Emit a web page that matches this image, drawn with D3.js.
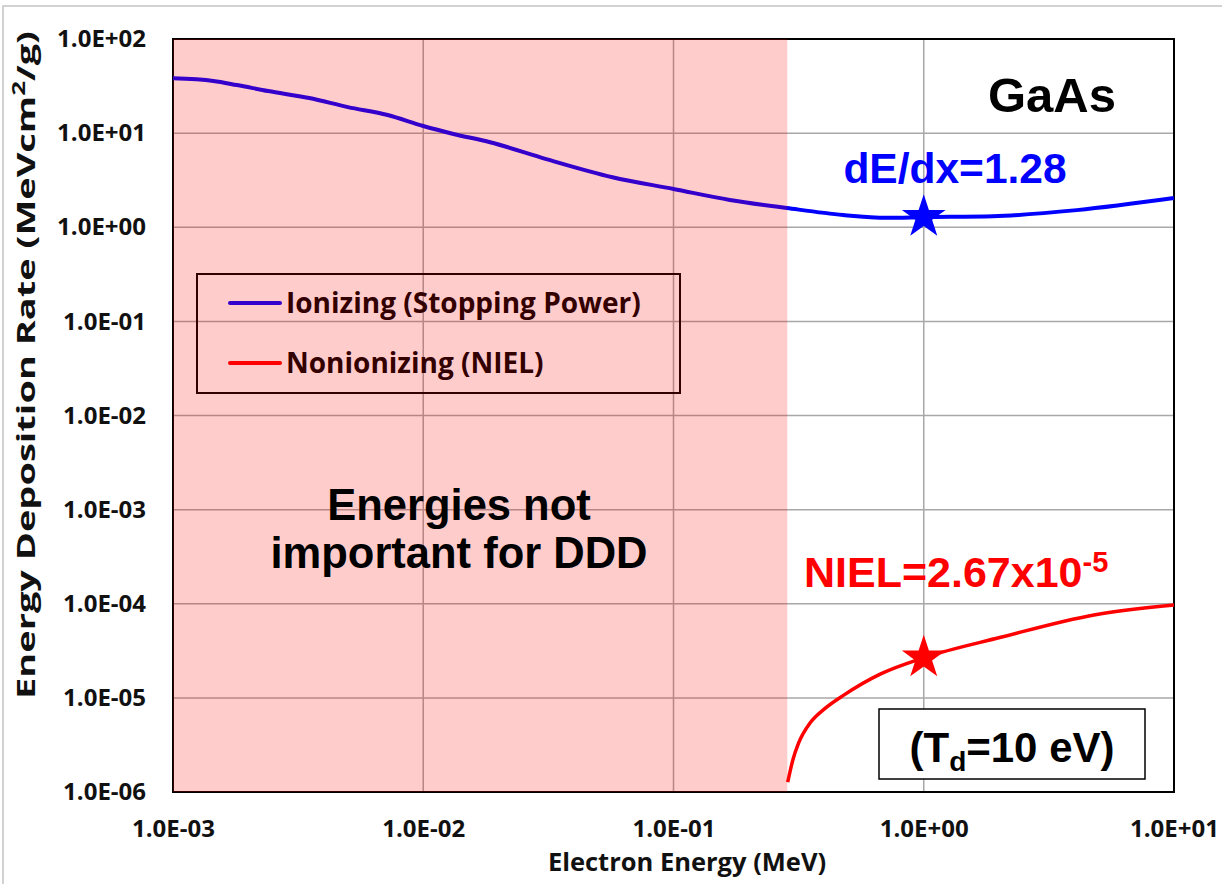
<!DOCTYPE html>
<html>
<head>
<meta charset="utf-8">
<script src="https://cdn.jsdelivr.net/npm/d3@7"></script>
<style>
  body { margin: 0; background: #fff; }
  svg { display: block; }
  .tick text { font-family: "Open Sans", Lato, sans-serif; font-weight: 700; font-size: 24px; fill: #111; }
  .cal { font-family: "Open Sans", Lato, sans-serif; font-weight: 700; }
  .big { font-family: "Liberation Sans", Arial, sans-serif; font-weight: 700; }
</style>
</head>
<body>
<svg id="chart" width="1222" height="884"></svg>
<script>
// ionizing (stopping power), MeV cm2/g
const ionEnergy = [0.001, 0.00145, 0.0018, 0.0024, 0.0035, 0.005, 0.0072, 0.01, 0.0132, 0.0185, 0.031, 0.057, 0.1, 0.168, 0.284, 0.476, 0.713, 1, 1.89, 4.09, 10]
const ionValue  = [38.2, 35.8, 32.4, 28.0, 23.6, 18.9, 15.6, 11.9, 9.8, 8.0, 5.3, 3.4, 2.55, 1.95, 1.6, 1.35, 1.26, 1.28, 1.31, 1.52, 2.04]

// nonionizing (NIEL)
const nielEnergy = [0.286, 0.30, 0.316, 0.353, 0.40, 0.479, 0.673, 1, 2.03, 4.79, 10]
const nielValue  = [1.27e-6, 2.2e-6, 3.3e-6, 5.5e-6, 7.6e-6, 1.07e-5, 1.8e-5, 2.67e-5, 4.4e-5, 7.6e-5, 9.7e-5]

const xTicks = [1e-3, 1e-2, 1e-1, 1e0, 1e1]
const xTickLabels = ["1.0E-03", "1.0E-02", "1.0E-01", "1.0E+00", "1.0E+01"]
const yTicks = [1e-6, 1e-5, 1e-4, 1e-3, 1e-2, 1e-1, 1e0, 1e1, 1e2]
const yTickLabels = ["1.0E-06", "1.0E-05", "1.0E-04", "1.0E-03", "1.0E-02", "1.0E-01", "1.0E+00", "1.0E+01", "1.0E+02"]

const pinkRange = [1e-3, 0.285]   // energies not important for DDD
const markers = [
  {energy: 1, value: 1.28, color: "#0000ff"},
  {energy: 1, value: 2.67e-5, color: "#ff0000"}
]

const plot = {left: 173, right: 1174, top: 39, bottom: 792}

const svg = d3.select("#chart")

// outer frame
svg.append("rect").attr("x", 3).attr("y", 6).attr("width", 1240).attr("height", 900)
  .attr("fill", "none").attr("stroke", "#c4c4c4").attr("stroke-width", 1.5)

const x = d3.scaleLog().domain([1e-3, 10]).range([plot.left, plot.right])
const y = d3.scaleLog().domain([1e-6, 1e2]).range([plot.bottom, plot.top])

// grid
svg.append("g").selectAll("line.h").data(yTicks.slice(1, -1)).join("line")
  .attr("x1", plot.left).attr("x2", plot.right)
  .attr("y1", d => y(d)).attr("y2", d => y(d))
  .attr("stroke", "#a8a8a8").attr("stroke-width", 1.5)
svg.append("g").selectAll("line.v").data(xTicks.slice(1, -1)).join("line")
  .attr("y1", plot.top).attr("y2", plot.bottom)
  .attr("x1", d => x(d)).attr("x2", d => x(d))
  .attr("stroke", "#a8a8a8").attr("stroke-width", 1.5)

// axes (labels only)
svg.append("g").attr("transform", `translate(${plot.left},0)`)
  .call(d3.axisLeft(y).tickValues(yTicks).tickFormat((d, i) => yTickLabels[i]).tickSize(0).tickPadding(27))
  .call(g => g.select(".domain").remove())
svg.append("g").attr("transform", `translate(0,${plot.bottom})`)
  .call(d3.axisBottom(x).tickValues(xTicks).tickFormat((d, i) => xTickLabels[i]).tickSize(0).tickPadding(28))
  .call(g => g.select(".domain").remove())

// axis titles
svg.append("text").attr("class", "cal").attr("x", 687).attr("y", 871).attr("text-anchor", "middle")
  .style("font-size", "25.5px").attr("fill", "#111")
  .text("Electron Energy (MeV)")
const yt = svg.append("text").attr("class", "cal").attr("transform", "translate(35,365) rotate(-90)").attr("text-anchor", "middle")
  .style("font-size", "25px").attr("fill", "#111")
  .attr("textLength", 668).attr("lengthAdjust", "spacingAndGlyphs")
yt.append("tspan").text("Energy Deposition Rate (MeVcm")
yt.append("tspan").attr("dy", -10).style("font-size", "17px").text("2")
yt.append("tspan").attr("dy", 10).text("/g)")

// legend
const legend = svg.append("g")
legend.append("rect").attr("x", 197).attr("y", 274).attr("width", 483).attr("height", 119)
  .attr("fill", "none").attr("stroke", "#000").attr("stroke-width", 2)
const legendItems = [["Ionizing (Stopping Power)", "#0000ff", 303], ["Nonionizing (NIEL)", "#ff0000", 363]]
legendItems.forEach(([label, color, ly]) => {
  legend.append("line").attr("x1", 230).attr("x2", 280).attr("y1", ly).attr("y2", ly)
    .attr("stroke", color).attr("stroke-width", 4).attr("stroke-linecap", "round")
  legend.append("text").attr("class", "cal").attr("x", 286).attr("y", ly + 10)
    .style("font-size", "28px").attr("fill", "#000")
    .text(label)
})

// plot frame
svg.append("rect").attr("x", plot.left).attr("y", plot.top)
  .attr("width", plot.right - plot.left).attr("height", plot.bottom - plot.top)
  .attr("fill", "none").attr("stroke", "#000").attr("stroke-width", 2)

const line = d3.line().x(d => x(d[0])).y(d => y(d[1])).curve(d3.curveMonotoneX)

svg.append("path").datum(d3.zip(ionEnergy, ionValue))
  .attr("d", line).attr("fill", "none").attr("stroke", "#0000ff").attr("stroke-width", 4)

// pink overlay
svg.append("rect").attr("x", x(pinkRange[0])).attr("y", plot.top)
  .attr("width", x(pinkRange[1]) - x(pinkRange[0])).attr("height", plot.bottom - plot.top)
  .attr("fill", "#ff0000").attr("fill-opacity", 0.2)

svg.append("path").datum(d3.zip(nielEnergy, nielValue))
  .attr("d", line).attr("fill", "none").attr("stroke", "#ff0000").attr("stroke-width", 3.5)

// stars
svg.append("g").selectAll("path").data(markers).join("path")
  .attr("transform", d => `translate(${x(d.energy)},${y(d.value)})`)
  .attr("d", d3.symbol(d3.symbolStar, 594))
  .attr("fill", d => d.color)

// annotations
svg.append("text").attr("class", "big").attr("x", 1052).attr("y", 112).attr("text-anchor", "middle")
  .style("font-size", "49px").attr("fill", "#000").text("GaAs")
svg.append("text").attr("class", "big").attr("x", 955).attr("y", 183).attr("text-anchor", "middle")
  .style("font-size", "42.5px").attr("fill", "#0000ff").text("dE/dx=1.28")
const niel = svg.append("text").attr("class", "big").attr("x", 804).attr("y", 587)
  .style("font-size", "43px").attr("fill", "#ff0000")
niel.append("tspan").text("NIEL=2.67x10")
niel.append("tspan").attr("dy", -15).style("font-size", "29px").text("-5")

const energiesText = svg.append("text").attr("class", "big").attr("text-anchor", "middle")
  .style("font-size", "43.5px").attr("fill", "#000")
energiesText.append("tspan").attr("x", 459).attr("y", 520).text("Energies not")
energiesText.append("tspan").attr("x", 459).attr("y", 568).text("important for DDD")

svg.append("rect").attr("x", 879).attr("y", 709).attr("width", 266).attr("height", 70)
  .attr("fill", "#fff").attr("stroke", "#000").attr("stroke-width", 1.5)
const td = svg.append("text").attr("class", "big").attr("x", 1012).attr("y", 762).attr("text-anchor", "middle")
  .style("font-size", "42px").attr("fill", "#000")
td.append("tspan").text("(T")
td.append("tspan").attr("dy", 9).style("font-size", "28px").text("d")
td.append("tspan").attr("dy", -9).text("=10 eV)")
</script>
</body>
</html>
